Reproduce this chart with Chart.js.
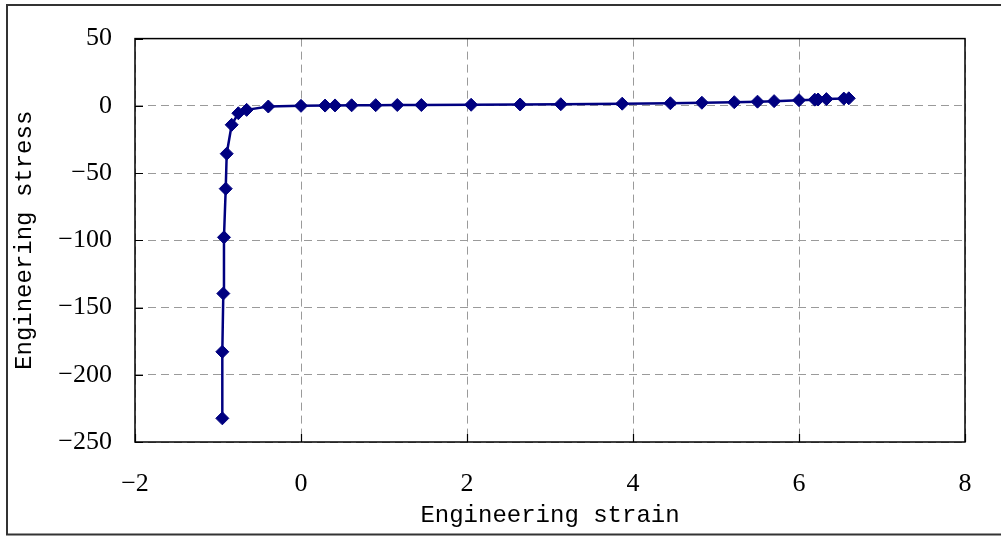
<!DOCTYPE html>
<html>
<head>
<meta charset="utf-8">
<script src="https://cdn.jsdelivr.net/npm/chart.js@4.4.1/dist/chart.umd.min.js"></script>
<style>
  html, body { margin: 0; padding: 0; background: #fff; }
  #wrap { width: 1001px; height: 536px; position: relative; }
</style>
</head>
<body>
<div id="wrap"><canvas id="c" width="1001" height="536"></canvas></div>
<script>
// Engineering strain (x) and engineering stress (y) for each measured point
const strain = [-0.948, -0.948, -0.936, -0.928, -0.907, -0.895, -0.835, -0.755, -0.655, -0.394,
  0.0, 0.29, 0.41, 0.61, 0.90, 1.16, 1.45, 2.05, 2.64, 3.13, 3.87,
  4.45, 4.83, 5.22, 5.50, 5.70, 6.00, 6.19, 6.23, 6.33, 6.54, 6.60];
const stress = [-232.4, -182.9, -139.6, -97.8, -61.6, -35.6, -14.1, -5.5, -3.0, -0.5,
  0.0, 0.2, 0.3, 0.4, 0.5, 0.6, 0.6, 0.8, 1.0, 1.2, 1.6,
  1.9, 2.3, 2.7, 3.1, 3.5, 4.2, 4.6, 4.7, 5.0, 5.4, 5.6];

const xTicks = [-2, 0, 2, 4, 6, 8];
const yTicks = [50, 0, -50, -100, -150, -200, -250];
const xTitle = 'Engineering strain';
const yTitle = 'Engineering stress';

const points = strain.map((x, i) => ({ x: x, y: stress[i] }));

// Outer frame, plot box and short inward tick marks
const framePlugin = {
  id: 'frame',
  afterDraw(chart) {
    const ctx = chart.ctx;
    const a = chart.chartArea;
    const xs = chart.scales.x, ys = chart.scales.y;
    ctx.save();
    ctx.strokeStyle = '#000';
    ctx.lineWidth = 1.5;
    ctx.strokeRect(a.left, a.top, a.right - a.left, a.bottom - a.top);
    ctx.lineWidth = 1.2;
    ctx.beginPath();
    yTicks.forEach(v => {
      const py = Math.round(ys.getPixelForValue(v)) + 0.5;
      ctx.moveTo(a.left, py); ctx.lineTo(a.left + 8, py);
    });
    xTicks.forEach(v => {
      const px = Math.round(xs.getPixelForValue(v)) + 0.5;
      ctx.moveTo(px, a.bottom); ctx.lineTo(px, a.bottom - 8);
    });
    ctx.stroke();
    ctx.strokeStyle = '#333';
    ctx.lineWidth = 2;
    ctx.beginPath();
    ctx.moveTo(1001, 5);
    ctx.lineTo(7, 5);
    ctx.lineTo(7, 534.5);
    ctx.lineTo(1001, 534.5);
    ctx.stroke();
    ctx.restore();
  }
};

new Chart(document.getElementById('c'), {
  type: 'scatter',
  data: {
    datasets: [{
      data: points,
      showLine: true,
      borderColor: '#000080',
      backgroundColor: '#000080',
      borderWidth: 2.5,
      pointStyle: 'rectRot',
      pointRadius: 6.5,
      pointBorderWidth: 1,
      pointBorderColor: '#000080',
      pointBackgroundColor: '#000080',
      tension: 0
    }]
  },
  options: {
    responsive: false,
    animation: false,
    devicePixelRatio: 1,
    layout: { padding: { top: 37, right: 36, bottom: 0, left: 0 } },
    plugins: { legend: { display: false }, tooltip: { enabled: false } },
    scales: {
      x: {
        type: 'linear',
        min: -2, max: 8,
        afterBuildTicks: s => { s.ticks = xTicks.map(v => ({ value: v })); },
        afterFit: s => { s.height = 94; },
        ticks: {
          padding: 27,
          color: '#000',
          font: { family: 'Liberation Serif', size: 26 },
          callback: v => (v < 0 ? '\u2212' + Math.abs(v) : String(v))
        },
        grid: {
          drawTicks: false,
          color: '#9a9a9a',
          lineWidth: 1
        },
        border: { display: false, dash: [8, 5] },
        title: {
          display: true,
          text: xTitle,
          color: '#000',
          font: { family: 'Liberation Mono', size: 24 },
          padding: { top: 0, bottom: 5.5 }
        }
      },
      y: {
        type: 'linear',
        min: -250, max: 50,
        afterBuildTicks: s => { s.ticks = yTicks.map(v => ({ value: v })); },
        afterFit: s => { s.width = 135; },
        ticks: {
          padding: 23,
          color: '#000',
          font: { family: 'Liberation Serif', size: 26 },
          callback: v => (v < 0 ? '\u2212' + Math.abs(v) : String(v))
        },
        grid: {
          drawTicks: false,
          color: '#9a9a9a',
          lineWidth: 1
        },
        border: { display: false, dash: [8, 5] },
        title: {
          display: true,
          text: yTitle,
          color: '#000',
          font: { family: 'Liberation Mono', size: 24 },
          padding: { top: 10.5, bottom: 0 }
        }
      }
    }
  },
  plugins: [framePlugin]
});
</script>
</body>
</html>
